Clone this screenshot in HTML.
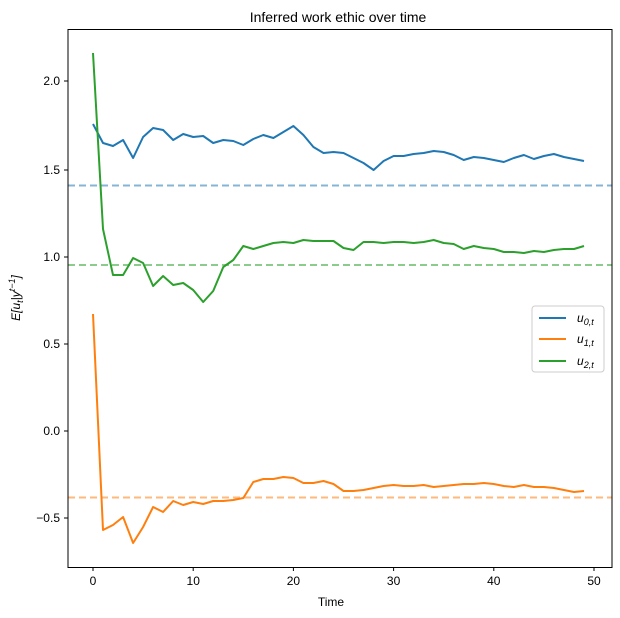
<!DOCTYPE html>
<html><head><style>body{margin:0;background:#fff}svg{display:block}text{font-family:"Liberation Sans",sans-serif;fill:#000}</style></head><body>
<svg width="620" height="618" xmlns="http://www.w3.org/2000/svg">
<text x="338" y="22" font-size="14" text-anchor="middle">Inferred work ethic over time</text>
<g stroke-width="2" fill="none" stroke-dasharray="7,4" opacity="0.55">
<line x1="68" x2="612" y1="185.5" y2="185.5" stroke="#1f77b4"/>
<line x1="68" x2="612" y1="265" y2="265" stroke="#2ca02c"/>
<line x1="68" x2="612" y1="497.5" y2="497.5" stroke="#ff7f0e"/>
</g>
<g id="series" fill="none" stroke-width="2" stroke-linejoin="round"></g>
<rect x="68" y="29.5" width="544" height="538" fill="none" stroke="#000" stroke-width="1"/>
<g stroke="#000" id="ticks"></g>
<g font-size="12" id="labels"></g>
<text x="331" y="606" font-size="12" text-anchor="middle">Time</text>
<text transform="translate(20,298) rotate(-90)" font-size="12" text-anchor="middle" font-style="italic">E[u<tspan font-size="9" dy="3">t</tspan><tspan dy="-3">|y</tspan><tspan font-size="9" dy="-5">t−1</tspan><tspan dy="5">]</tspan></text>
<rect x="532" y="306" width="72" height="66" rx="3" fill="#fff" stroke="#ccc"/>
<line x1="539" x2="566" y1="318" y2="318" stroke="#1f77b4" stroke-width="2"/>
<line x1="539" x2="566" y1="339" y2="339" stroke="#ff7f0e" stroke-width="2"/>
<line x1="539" x2="566" y1="361" y2="361" stroke="#2ca02c" stroke-width="2"/>
<g font-size="12" font-style="italic">
<text x="577" y="322">u<tspan font-size="9" dy="3">0,t</tspan></text>
<text x="577" y="343">u<tspan font-size="9" dy="3">1,t</tspan></text>
<text x="577" y="365">u<tspan font-size="9" dy="3">2,t</tspan></text>
</g>
</svg>
<script>
const B=[124,143,146,140,158,137,128,130,140,134,137,136,143,140,141,145,139,135,138,132,126,135,147,153,152,153,158,163,170,161,156,156,154,153,151,152,155,160,157,158,160,162,158,155,159,156,154,157,159,161];
const G=[53,229,275,275,258,263,286,276,285,283,290,302,291,267,260,246,249,246,243,242,243,240,241,241,241,248,250,242,242,243,242,242,243,242,240,243,244,249,246,248,249,252,252,253,251,252,250,249,249,246];
const O=[314,530,525,517,543,527,507,512,501,505,502,504,501,501,500,498,482,479,479,477,478,483,483,481,484,491,491,490,488,486,485,486,486,485,487,486,485,484,484,483,484,486,487,485,487,487,488,490,492,491];
const s=document.getElementById('series');const NS='http://www.w3.org/2000/svg';
[[B,'#1f77b4'],[O,'#ff7f0e'],[G,'#2ca02c']].forEach(([d,c])=>{const p=document.createElementNS(NS,'polyline');p.setAttribute('points',d.map((y,i)=>(93+10.02*i).toFixed(1)+','+y).join(' '));p.setAttribute('stroke',c);s.appendChild(p);});
const t=document.getElementById('ticks'),l=document.getElementById('labels');
function add(tag,a,txt){const e=document.createElementNS(NS,tag);for(const k in a)e.setAttribute(k,a[k]);if(txt!=null)e.textContent=txt;return e;}
for(let i=0;i<=5;i++){const x=93+100.2*i;t.appendChild(add('line',{x1:x,x2:x,y1:567.5,y2:571}));l.appendChild(add('text',{x:x,y:585,'text-anchor':'middle'},String(i*10)));}
const ys=[[2,81],[1.5,170],[1,257],[0.5,344],[0,431],[-0.5,518]];
ys.forEach(([v,y])=>{t.appendChild(add('line',{x1:64,x2:68,y1:y,y2:y}));l.appendChild(add('text',{x:60,y:y+4,'text-anchor':'end'},(v<0?'−':'')+Math.abs(v).toFixed(1)));});
</script>
</body></html>
